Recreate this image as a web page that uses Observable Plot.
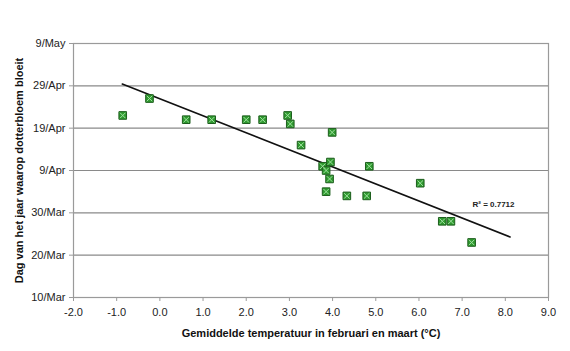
<!DOCTYPE html>
<html>
<head>
<meta charset="utf-8">
<script src="https://cdn.jsdelivr.net/npm/d3@7"></script>
<script src="https://cdn.jsdelivr.net/npm/@observablehq/plot@0.6"></script>
<style>
  html, body { margin: 0; padding: 0; background: #fff; }
  #chart svg { display: block; }
</style>
</head>
<body>
<div id="chart"></div>
<script>
// Mean temperature in Feb & March (°C)
const temperature = [-0.86, -0.24, 0.61, 1.20, 2.00, 2.38, 2.96, 3.02, 3.99, 3.27, 3.95,
                     3.77, 3.85, 3.93, 4.85, 6.03, 3.85, 4.33, 4.79, 6.54, 6.74, 7.22];
// Flowering date (month-day)
const bloomDate = ["04-22", "04-26", "04-21", "04-21", "04-21", "04-21", "04-22", "04-20", "04-18", "04-15", "04-11",
                   "04-10", "04-09", "04-07", "04-10", "04-06", "04-04", "04-03", "04-03", "03-28", "03-28", "03-23"];
// Y tick labels (every 10 days)
const yTicks = ["03-10", "03-20", "03-30", "04-09", "04-19", "04-29", "05-09"];
const xTicks = [-2, -1, 0, 1, 2, 3, 4, 5, 6, 7, 8, 9];
// Trendline drawn over this temperature range
const trendRange = [-0.87, 8.11];
const rSquared = "R² = 0.7712";

const parse = s => new Date(`2001-${s}T00:00:00Z`);
const data = temperature.map((t, i) => ({t, d: parse(bloomDate[i])}));

// least squares on day numbers
const day = d => d.getTime() / 864e5;
const mx = d3.mean(data, p => p.t), my = d3.mean(data, p => day(p.d));
const slope = d3.sum(data, p => (p.t - mx) * (day(p.d) - my)) / d3.sum(data, p => (p.t - mx) ** 2);
const trend = trendRange.map(t => ({t, d: new Date((my + slope * (t - mx)) * 864e5)}));

const yTickDates = yTicks.map(parse);
const fmt = d3.utcFormat("%-d/%b");
const xfmt = d => d.toFixed(1);

const chart = Plot.plot({
  width: 570,
  height: 351,
  marginLeft: 73,
  marginRight: 22,
  marginTop: 43,
  marginBottom: 54,
  style: {fontFamily: "'Liberation Sans', Arial, sans-serif", fontSize: "11px", color: "#222", background: "#fff"},
  x: {domain: [-2, 9], label: null},
  y: {type: "utc", domain: [yTickDates[0], yTickDates[yTickDates.length - 1]], label: null},
  marks: [
    Plot.ruleY(yTickDates, {stroke: "#8a8a8a", strokeWidth: 1.2}),
    Plot.frame({stroke: "#9a9a9a", strokeWidth: 1.2}),
    Plot.axisX({ticks: xTicks, tickFormat: xfmt, tickSize: 4, tickPadding: 7, stroke: "#9a9a9a", fill: "#222", fontSize: 11}),
    Plot.axisY({ticks: yTickDates, tickFormat: fmt, tickSize: 4, tickPadding: 4, stroke: "#9a9a9a", fill: "#222", fontSize: 11}),
    Plot.line(trend, {x: "t", y: "d", stroke: "#111", strokeWidth: 1.6}),
    Plot.dot(data, {x: "t", y: "d", symbol: "square", r: 4.3, fill: "#2f9a2f", stroke: "#1d5e1d", strokeWidth: 1}),
    Plot.dot(data, {x: "t", y: "d", symbol: "times", r: 2.6, stroke: "#9fe09f", strokeWidth: 1}),
    Plot.text([rSquared], {frameAnchor: "top-left", dx: 420, dy: 158, fontSize: 8, fontWeight: "bold", fill: "#222", textAnchor: "middle"}),
    Plot.text(["Gemiddelde temperatuur in februari en maart (°C)"], {frameAnchor: "bottom", dy: 36, lineAnchor: "middle", fontSize: 11, fontWeight: "bold", fill: "#111"}),
    Plot.text(["Dag van het jaar waarop dotterbloem bloeit"], {frameAnchor: "left", dx: -54, rotate: -90, textAnchor: "middle", lineAnchor: "middle", fontSize: 11, fontWeight: "bold", fill: "#111"})
  ]
});
document.getElementById("chart").appendChild(chart);
</script>
</body>
</html>
